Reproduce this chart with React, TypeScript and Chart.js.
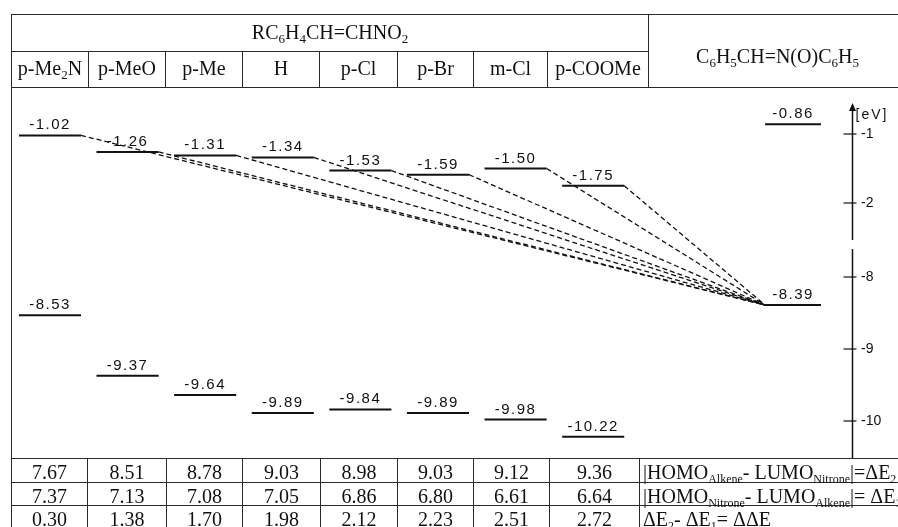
import React, { useEffect, useRef } from 'react';
import { Chart, registerables } from 'chart.js';

Chart.register(...registerables);

// ---------- data ----------
const SUBSTITUENTS = ['p-Me2N', 'p-MeO', 'p-Me', 'H', 'p-Cl', 'p-Br', 'm-Cl', 'p-COOMe'];
const ALKENE_FORMULA = 'RC6H4CH=CHNO2';
const NITRONE_FORMULA = 'C6H5CH=N(O)C6H5';
const LUMO_ALKENE = [-1.02, -1.26, -1.31, -1.34, -1.53, -1.59, -1.5, -1.75];
const HOMO_ALKENE = [-8.53, -9.37, -9.64, -9.89, -9.84, -9.89, -9.98, -10.22];
const LUMO_NITRONE = -0.86;
const HOMO_NITRONE = -8.39;
const DELTA_E2 = [7.67, 8.51, 8.78, 9.03, 8.98, 9.03, 9.12, 9.36];
const DELTA_E1 = [7.37, 7.13, 7.08, 7.05, 6.86, 6.8, 6.61, 6.64];
const DELTA_DELTA_E = [0.3, 1.38, 1.7, 1.98, 2.12, 2.23, 2.51, 2.72];
const UPPER_TICKS = [-1, -2];
const LOWER_TICKS = [-8, -9, -10];
const AXIS_UNIT = '[eV]';

// ---------- layout ----------
const SERIF = '"Liberation Serif", "Times New Roman", serif';
const SANS = '"Liberation Sans", Arial, Helvetica, sans-serif';
const INK = '#111';
const RULE = '#2a2a2a';
const HEAD_COLS = [11, 88, 165, 242, 319, 397, 473, 547, 648, 906];
const HEAD_ROWS = [14, 51, 87];
const BODY_COLS = [11, 87, 166, 242, 320, 397, 473, 549, 639, 906];
const BODY_ROWS = [458, 482, 505, 528];
const CANVAS_TOP = 87;
const CANVAS_H = BODY_ROWS[0] - CANVAS_TOP;
const X_MIN = -0.644;
const X_MAX = 10.335;
const LEVEL_HALF = 0.4;
const NITRONE_POS = 9.575;
const NITRONE_HALF = 0.36;
const AXIS_TOP = -0.55;
const UPPER_RANGE = { min: -2.6014, max: -0.3188, weight: 157.5 };
const LOWER_RANGE = { min: -10.514, max: -7.5486, weight: 213.5 };
const AXIS_W = 46;

function Formula({ text, size = 13 }: { text: string; size?: number }) {
  const parts: React.ReactNode[] = [];
  let prevSub = false;
  for (let i = 0; i < text.length; i++) {
    const c = text[i];
    const prev = i > 0 ? text[i - 1] : '';
    const isDigit = /\d/.test(c);
    const sub = isDigit && (/[A-Za-z)]/.test(prev) || prevSub);
    if (sub) {
      parts.push(
        <sub key={i} style={{ fontSize: size, verticalAlign: '-4px', lineHeight: 0 }}>
          {c}
        </sub>
      );
    } else {
      parts.push(c);
    }
    prevSub = sub;
  }
  return <span>{parts}</span>;
}

const S = ({ children }: { children: React.ReactNode }) => (
  <sub style={{ fontSize: 12, verticalAlign: '-4px', lineHeight: 0 }}>{children}</sub>
);

const ROW_LABELS: React.ReactNode[] = [
  <span>|HOMO<S>Alkene</S>- LUMO<S>Nitrone</S>|=ΔE<S>2</S></span>,
  <span>|HOMO<S>Nitrone</S>- LUMO<S>Alkene</S>|= ΔE<S>1</S></span>,
  <span>ΔE<S>2</S>- ΔE<S>1</S>= ΔΔE</span>,
];

function HLine({ x1, x2, y }: { x1: number; x2: number; y: number }) {
  return <div style={{ position: 'absolute', left: x1, top: y, width: x2 - x1 + 1, height: 1, background: RULE }} />;
}
function VLine({ x, y1, y2 }: { x: number; y1: number; y2: number }) {
  return <div style={{ position: 'absolute', left: x, top: y1, width: 1, height: y2 - y1 + 1, background: RULE }} />;
}
function Cell({ x1, x2, y1, y2, dy = 0, left = false, children }: any) {
  return (
    <div
      style={{
        position: 'absolute',
        left: x1 + 1,
        top: y1 + 1 + dy,
        width: x2 - x1 - 1,
        height: y2 - y1 - 1,
        display: 'flex',
        alignItems: 'center',
        justifyContent: left ? 'flex-start' : 'center',
        paddingLeft: left ? 3 : 0,
        boxSizing: 'border-box',
        fontFamily: SERIF,
        fontSize: 20,
        lineHeight: 1,
        color: INK,
        whiteSpace: 'nowrap',
      }}
    >
      {children}
    </div>
  );
}

function levelDataset(pos: number, value: number, half: number, axis: string) {
  return {
    data: [
      { x: pos - half, y: value },
      { x: pos + half, y: value },
    ],
    yAxisID: axis,
    xAxisID: 'x',
    borderColor: INK,
    borderWidth: 2,
    pointRadius: 0,
    fill: false,
    tension: 0,
  };
}

const overlay = {
  id: 'overlay',
  afterDatasetsDraw(chart: any) {
    const { ctx, chartArea, scales } = chart;
    const xs = scales.x;
    const yU = scales.yU;
    const yL = scales.yL;
    ctx.save();
    // dashed connections: alkene LUMO -> nitrone HOMO
    ctx.strokeStyle = INK;
    ctx.lineWidth = 1.3;
    ctx.setLineDash([5, 3]);
    const endX = xs.getPixelForValue(NITRONE_POS - NITRONE_HALF);
    const endY = yL.getPixelForValue(HOMO_NITRONE);
    LUMO_ALKENE.forEach((v, i) => {
      ctx.beginPath();
      ctx.moveTo(xs.getPixelForValue(i + LEVEL_HALF), yU.getPixelForValue(v));
      ctx.lineTo(endX, endY);
      ctx.stroke();
    });
    ctx.setLineDash([]);

    // level labels
    ctx.fillStyle = INK;
    ctx.font = `15px ${SANS}`;
    (ctx as any).letterSpacing = '1.5px';
    ctx.textAlign = 'center';
    ctx.textBaseline = 'alphabetic';
    const label = (pos: number, v: number, scale: any) => {
      ctx.fillText(v.toFixed(2), xs.getPixelForValue(pos), scale.getPixelForValue(v) - 6);
    };
    LUMO_ALKENE.forEach((v, i) => label(i, v, yU));
    HOMO_ALKENE.forEach((v, i) => label(i, v, yL));
    label(NITRONE_POS, LUMO_NITRONE, yU);
    label(NITRONE_POS, HOMO_NITRONE, yL);

    // broken energy axis
    const ax = chartArea.right + 0.5;
    const topY = yU.getPixelForValue(AXIS_TOP);
    ctx.lineWidth = 1.5;
    ctx.beginPath();
    ctx.moveTo(ax, topY + 4);
    ctx.lineTo(ax, yU.bottom - 4.5);
    ctx.moveTo(ax, yL.top + 4.5);
    ctx.lineTo(ax, chartArea.bottom);
    ctx.stroke();
    ctx.beginPath();
    ctx.moveTo(ax, topY);
    ctx.lineTo(ax - 3.5, topY + 8);
    ctx.lineTo(ax + 3.5, topY + 8);
    ctx.closePath();
    ctx.fill();
    ctx.lineWidth = 1.2;
    const tick = (y: number) => {
      ctx.beginPath();
      ctx.moveTo(ax - 9, y);
      ctx.lineTo(ax + 4, y);
      ctx.stroke();
    };
    UPPER_TICKS.forEach((t) => tick(yU.getPixelForValue(t)));
    LOWER_TICKS.forEach((t) => tick(yL.getPixelForValue(t)));
    ctx.font = `14px ${SANS}`;
    (ctx as any).letterSpacing = '2px';
    ctx.textAlign = 'left';
    ctx.fillText(AXIS_UNIT, ax + 3, topY + 16);
    ctx.restore();
  },
};

function yScale(range: { min: number; max: number; weight: number }, ticks: number[]) {
  return {
    type: 'linear',
    axis: 'y',
    position: 'right',
    stack: 'energy',
    stackWeight: range.weight,
    min: range.min,
    max: range.max,
    grid: { display: false, drawTicks: false },
    border: { display: false },
    ticks: {
      color: INK,
      padding: 9,
      autoSkip: false,
      font: { family: SANS, size: 14 },
      callback: (v: number) => String(v),
    },
    afterBuildTicks: (s: any) => {
      s.ticks = ticks.map((value) => ({ value }));
    },
    afterFit: (s: any) => {
      s.width = AXIS_W;
      s.paddingTop = 0;
      s.paddingBottom = 0;
    },
  };
}

export default function App() {
  const ref = useRef<HTMLCanvasElement>(null);

  useEffect(() => {
    if (!ref.current) return;
    const datasets: any[] = [];
    LUMO_ALKENE.forEach((v, i) => datasets.push(levelDataset(i, v, LEVEL_HALF, 'yU')));
    HOMO_ALKENE.forEach((v, i) => datasets.push(levelDataset(i, v, LEVEL_HALF, 'yL')));
    datasets.push(levelDataset(NITRONE_POS, LUMO_NITRONE, NITRONE_HALF, 'yU'));
    datasets.push(levelDataset(NITRONE_POS, HOMO_NITRONE, NITRONE_HALF, 'yL'));

    const chart = new Chart(ref.current, {
      type: 'line',
      data: { datasets },
      options: {
        animation: false,
        responsive: false,
        devicePixelRatio: 1,
        events: [],
        layout: { padding: 0 },
        plugins: { legend: { display: false }, tooltip: { enabled: false } },
        scales: {
          x: { type: 'linear', display: false, min: X_MIN, max: X_MAX },
          yU: yScale(UPPER_RANGE, UPPER_TICKS),
          yL: yScale(LOWER_RANGE, LOWER_TICKS),
        } as any,
      },
      plugins: [overlay],
    } as any);
    return () => chart.destroy();
  }, []);

  const headRight = HEAD_COLS[HEAD_COLS.length - 1];
  const bodyRight = BODY_COLS[BODY_COLS.length - 1];

  return (
    <div style={{ position: 'absolute', left: 0, top: 0, width: 898, height: 527, overflow: 'hidden', background: '#fff' }}>
      <canvas
        ref={ref}
        width={898}
        height={CANVAS_H}
        style={{ position: 'absolute', left: 0, top: CANVAS_TOP, width: 898, height: CANVAS_H, display: 'block' }}
      />
      {/* header table rules */}
      <HLine x1={HEAD_COLS[0]} x2={headRight} y={HEAD_ROWS[0]} />
      <HLine x1={HEAD_COLS[0]} x2={HEAD_COLS[8]} y={HEAD_ROWS[1]} />
      <HLine x1={HEAD_COLS[0]} x2={headRight} y={HEAD_ROWS[2]} />
      <VLine x={HEAD_COLS[0]} y1={HEAD_ROWS[0]} y2={BODY_ROWS[3]} />
      {HEAD_COLS.slice(1, 8).map((x, i) => (
        <VLine key={'hv' + i} x={x} y1={HEAD_ROWS[1]} y2={HEAD_ROWS[2]} />
      ))}
      <VLine x={HEAD_COLS[8]} y1={HEAD_ROWS[0]} y2={HEAD_ROWS[2]} />
      <Cell x1={HEAD_COLS[0]} x2={HEAD_COLS[8]} y1={HEAD_ROWS[0]} y2={HEAD_ROWS[1]} dy={-1}>
        <Formula text={ALKENE_FORMULA} />
      </Cell>
      {SUBSTITUENTS.map((s, i) => (
        <Cell key={'sub' + i} x1={HEAD_COLS[i]} x2={HEAD_COLS[i + 1]} y1={HEAD_ROWS[1]} y2={HEAD_ROWS[2]} dy={-2}>
          <Formula text={s} />
        </Cell>
      ))}
      <Cell x1={HEAD_COLS[8]} x2={headRight} y1={HEAD_ROWS[0]} y2={HEAD_ROWS[2]} dy={5}>
        <Formula text={NITRONE_FORMULA} />
      </Cell>

      {/* bottom table */}
      {BODY_ROWS.map((y, i) => (
        <HLine key={'bh' + i} x1={BODY_COLS[0]} x2={bodyRight} y={y} />
      ))}
      {BODY_COLS.slice(1, 9).map((x, i) => (
        <VLine key={'bv' + i} x={x} y1={BODY_ROWS[0]} y2={BODY_ROWS[3]} />
      ))}
      {[DELTA_E2, DELTA_E1, DELTA_DELTA_E].map((row, r) => (
        <React.Fragment key={'row' + r}>
          {row.map((v, i) => (
            <Cell key={'c' + r + '-' + i} x1={BODY_COLS[i]} x2={BODY_COLS[i + 1]} y1={BODY_ROWS[r]} y2={BODY_ROWS[r + 1]} dy={1.5}>
              {v.toFixed(2)}
            </Cell>
          ))}
          <Cell x1={BODY_COLS[8]} x2={bodyRight} y1={BODY_ROWS[r]} y2={BODY_ROWS[r + 1]} dy={1.5} left>
            {ROW_LABELS[r]}
          </Cell>
        </React.Fragment>
      ))}
    </div>
  );
}
